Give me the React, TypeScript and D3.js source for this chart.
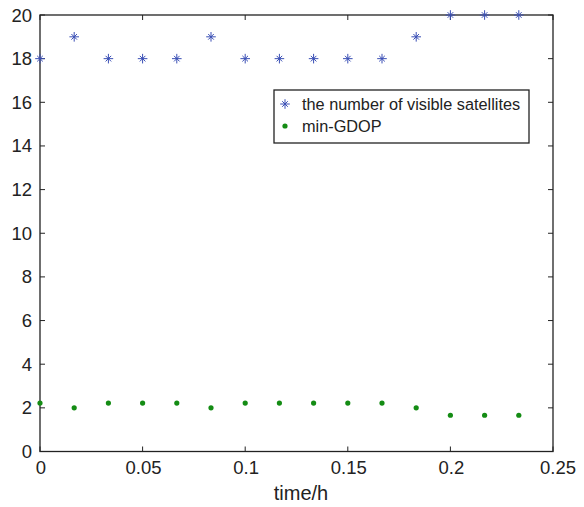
import React from "react";
import * as d3 from "d3";

const times = [0, 1 / 60, 2 / 60, 3 / 60, 4 / 60, 5 / 60, 6 / 60, 7 / 60, 8 / 60, 9 / 60, 10 / 60, 11 / 60, 12 / 60, 13 / 60, 14 / 60];
const satellites = [18, 19, 18, 18, 18, 19, 18, 18, 18, 18, 18, 19, 20, 20, 20];
const gdop = [2.22, 2.0, 2.22, 2.22, 2.22, 2.0, 2.22, 2.22, 2.22, 2.22, 2.22, 2.0, 1.66, 1.66, 1.66];
const xTicks = [0, 0.05, 0.1, 0.15, 0.2, 0.25];
const xTickLabels = ["0", "0.05", "0.1", "0.15", "0.2", "0.25"];
const yTicks = [0, 2, 4, 6, 8, 10, 12, 14, 16, 18, 20];
const seriesNames = ["the number of visible satellites", "min-GDOP"];

const W = 584, H = 507;
const L = 40, R = 553, T = 15, B = 451.5;
const FONT = "Liberation Sans, Arial, Helvetica, sans-serif";
const BLUE = "#3a4fb5";
const GREEN = "#148c14";

function Star({ x, y }: { x: number; y: number }) {
  const a = 4.8, b = 2.8;
  return (
    <path
      d={`M${x - a},${y}H${x + a}M${x},${y - a}V${y + a}M${x - b},${y - b}L${x + b},${y + b}M${x - b},${y + b}L${x + b},${y - b}`}
      stroke={BLUE}
      strokeWidth={1}
      fill="none"
    />
  );
}

export default function App() {
  const x = d3.scaleLinear().domain([0, 0.25]).range([L, R]);
  const y = d3.scaleLinear().domain([0, 20]).range([B, T]);
  const tl = 5;
  return (
    <svg width={W} height={H} style={{ position: "absolute", left: 0, top: 0, background: "#fff" }} fontFamily={FONT}>
      <rect x={0} y={0} width={W} height={H} fill="#fff" />
      {xTicks.map((t, i) => (
        <g key={"x" + i}>
          <line x1={x(t)} x2={x(t)} y1={B} y2={B - tl} stroke="#222" />
          <line x1={x(t)} x2={x(t)} y1={T} y2={T + tl} stroke="#222" />
          <text x={x(t) + (i === xTicks.length - 1 ? 5 : 1)} y={473.5} textAnchor="middle" fontSize={18.5} fill="#222">{xTickLabels[i]}</text>
        </g>
      ))}
      {yTicks.map((t) => (
        <g key={"y" + t}>
          <line x1={L} x2={L + tl} y1={y(t)} y2={y(t)} stroke="#222" />
          <line x1={R} x2={R - tl} y1={y(t)} y2={y(t)} stroke="#222" />
          <text x={32} y={y(t) + 6.5} textAnchor="end" fontSize={18.5} fill="#222">{t}</text>
        </g>
      ))}
      <rect x={L} y={T} width={R - L} height={B - T} fill="none" stroke="#222" strokeWidth={1.3} />
      <text x={301} y={500} textAnchor="middle" fontSize={20} fill="#222">time/h</text>
      {times.map((t, i) => (
        <Star key={"s" + i} x={x(t)} y={y(satellites[i])} />
      ))}
      {times.map((t, i) => (
        <circle key={"g" + i} cx={x(t)} cy={y(gdop[i])} r={2.6} fill={GREEN} />
      ))}
      <rect x={274} y={90} width={255} height={53} fill="#fff" stroke="#222" strokeWidth={1.3} />
      <Star x={285} y={104} />
      <circle cx={285} cy={126} r={2.6} fill={GREEN} />
      <text x={302} y={110} fontSize={16.3} fill="#222">{seriesNames[0]}</text>
      <text x={302} y={132} fontSize={16.3} fill="#222">{seriesNames[1]}</text>
    </svg>
  );
}
